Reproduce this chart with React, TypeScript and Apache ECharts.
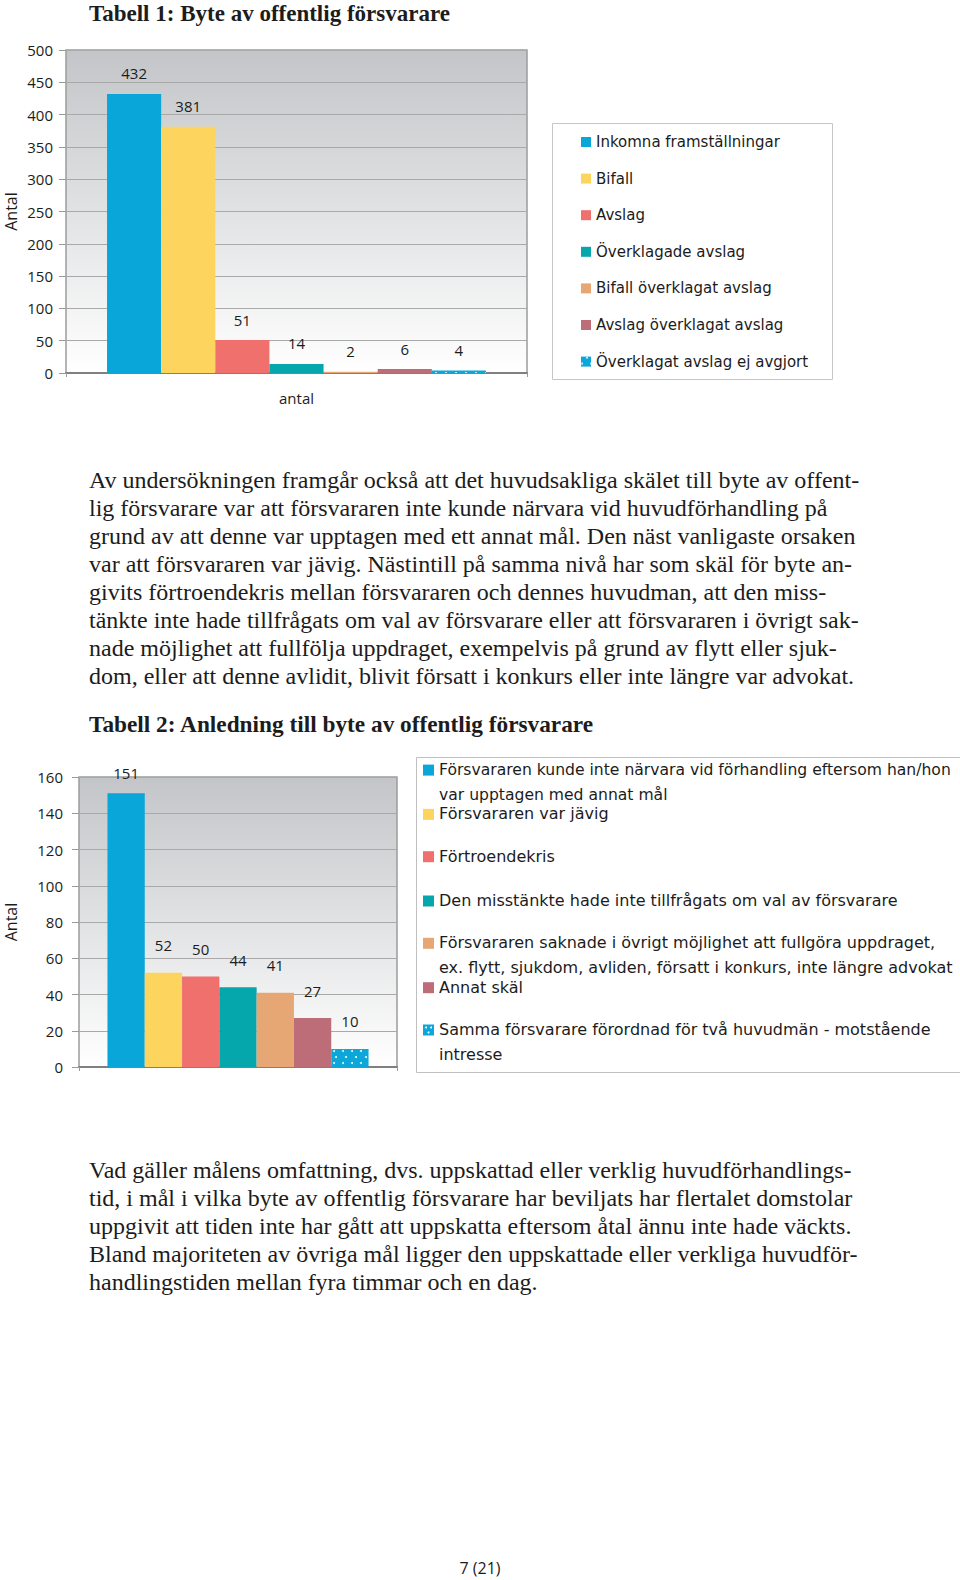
import React, { useEffect, useRef } from "react";
import * as echarts from "echarts";

// ---------- data ----------
const title1 = "Tabell 1: Byte av offentlig försvarare";
const title2 = "Tabell 2: Anledning till byte av offentlig försvarare";
const categories1 = ["antal"];
const categories2 = [""];
const series1Names = [
  "Inkomna framställningar",
  "Bifall",
  "Avslag",
  "Överklagade avslag",
  "Bifall överklagat avslag",
  "Avslag överklagat avslag",
  "Överklagat avslag ej avgjort",
];
const series1Values = [432, 381, 51, 14, 2, 6, 4];
const series2Names = [
  "Försvararen kunde inte närvara vid förhandling eftersom han/hon\nvar upptagen med annat mål",
  "Försvararen var jävig",
  "Förtroendekris",
  "Den misstänkte hade inte tillfrågats om val av försvarare",
  "Försvararen saknade i övrigt möjlighet att fullgöra uppdraget,\nex. flytt, sjukdom, avliden, försatt i konkurs, inte längre advokat",
  "Annat skäl",
  "Samma försvarare förordnad för två huvudmän - motstående\nintresse",
];
const series2Values = [151, 52, 50, 44, 41, 27, 10];
const yAxis1 = { min: 0, max: 500, interval: 50 };
const yAxis2 = { min: 0, max: 160, interval: 20 };
const yName = "Antal";
const paragraph1 = [
  "Av undersökningen framgår också att det huvudsakliga skälet till byte av offent-",
  "lig försvarare var att försvararen inte kunde närvara vid huvudförhandling på",
  "grund av att denne var upptagen med ett annat mål. Den näst vanligaste orsaken",
  "var att försvararen var jävig. Nästintill på samma nivå har som skäl för byte an-",
  "givits förtroendekris mellan försvararen och dennes huvudman, att den miss-",
  "tänkte inte hade tillfrågats om val av försvarare eller att försvararen i övrigt sak-",
  "nade möjlighet att fullfölja uppdraget, exempelvis på grund av flytt eller sjuk-",
  "dom, eller att denne avlidit, blivit försatt i konkurs eller inte längre var advokat.",
];
const paragraph2 = [
  "Vad gäller målens omfattning, dvs. uppskattad eller verklig huvudförhandlings-",
  "tid, i mål i vilka byte av offentlig försvarare har beviljats har flertalet domstolar",
  "uppgivit att tiden inte har gått att uppskatta eftersom åtal ännu inte hade väckts.",
  "Bland majoriteten av övriga mål ligger den uppskattade eller verkliga huvudför-",
  "handlingstiden mellan fyra timmar och en dag.",
];
const pageNumber = "7 (21)";

// ---------- styles ----------
const colors = ["#09a6d9", "#fdd55e", "#ef706d", "#06a6ad", "#e6a775", "#bc6d78", "#0ba6da"];
const dotDecal = {
  symbol: "circle",
  symbolSize: 1,
  color: "rgba(255,255,255,0.9)",
  dashArrayX: [[2, 7], [0, 4.5, 2, 2.5]],
  dashArrayY: [2, 4],
};
const sans = "'Open Sans', 'DejaVu Sans', sans-serif";
const legendFont = "'DejaVu Sans', sans-serif";
const serif = "'Liberation Serif', 'DejaVu Serif', serif";
const ink = "#1c1c1c";
const bodySize = 24;

const grid1 = { left: 66, top: 50, width: 461, height: 323 };
const grid2 = { left: 79, top: 777, width: 318, height: 290 };
const legend2Lines = [769.6, 813.9, 856.2, 900.5, 942.8, 987.2, 1029.5];

function plotBg() {
  return new echarts.graphic.LinearGradient(0, 0, 0, 1, [
    { offset: 0, color: "#c3c5c8" },
    { offset: 1, color: "#ffffff" },
  ]);
}

function buildOption() {
  const yAxisCommon = (cfg: any, gridIndex: number, margin: number, nameGap: number) => ({
    type: "value",
    gridIndex,
    min: cfg.min,
    max: cfg.max,
    interval: cfg.interval,
    name: yName,
    nameLocation: "middle",
    nameGap,
    nameRotate: 90,
    nameMoveOverlap: false,
    nameTextStyle: { fontSize: 16, fontFamily: sans, color: ink },
    axisLine: { show: false },
    axisTick: { show: true, length: 7, lineStyle: { color: "#9a9a9a" } },
    axisLabel: { fontSize: 15, fontFamily: sans, color: ink, margin },
    splitLine: { lineStyle: { color: "#a9a9a9", width: 1 } },
  });

  const xAxisCommon = (cats: string[], gridIndex: number) => ({
    type: "category",
    gridIndex,
    data: cats,
    axisLine: { lineStyle: { color: "#808080", width: 2 } },
    axisTick: { show: true, length: 4, lineStyle: { color: "#9a9a9a" } },
    axisLabel: { fontSize: 15, fontFamily: sans, color: ink, margin: 17 },
  });

  const s1 = series1Names.map((name, i) => ({
    type: "bar",
    name,
    xAxisIndex: 0,
    yAxisIndex: 0,
    data: [series1Values[i]],
    barGap: "0%",
    barCategoryGap: "17.8%",
    itemStyle: i === 6 ? { color: colors[i], decal: dotDecal } : { color: colors[i] },
    label: { show: true, position: "top", distance: 13, fontSize: 15, fontFamily: sans, color: ink },
  }));

  const s2 = series2Names.map((name, i) => ({
    type: "bar",
    name,
    xAxisIndex: 1,
    yAxisIndex: 1,
    data: [series2Values[i]],
    barGap: "0%",
    barCategoryGap: "17.9%",
    itemStyle: i === 6 ? { color: colors[i], decal: dotDecal } : { color: colors[i] },
    label: {
      show: true,
      position: "top",
      distance: i === 0 ? 13 : 20,
      fontSize: 15,
      fontFamily: sans,
      color: ink,
    },
  }));

  const elements: any[] = [];
  // titles
  elements.push({
    type: "text",
    x: 89,
    y: 13,
    style: { text: title1, fontSize: 23, fontWeight: "bold", fontFamily: serif, fill: ink, verticalAlign: "middle" },
  });
  elements.push({
    type: "text",
    x: 89,
    y: 724,
    style: { text: title2, fontSize: 23.3, fontWeight: "bold", fontFamily: serif, fill: ink, verticalAlign: "middle" },
  });
  // legend 1 frame
  elements.push({
    type: "rect",
    shape: { x: 552.5, y: 123.5, width: 280, height: 256 },
    style: { fill: "#ffffff", stroke: "#c6c6c6", lineWidth: 1 },
    z: -1,
  });
  // legend 2 frame and items
  elements.push({
    type: "rect",
    shape: { x: 416.5, y: 757.5, width: 560, height: 315 },
    style: { fill: "#ffffff", stroke: "#c0c0c0", lineWidth: 1 },
    z: -1,
  });
  series2Names.forEach((name, i) => {
    const cy = legend2Lines[i];
    elements.push({
      type: "rect",
      shape: { x: 423, y: cy - 5, width: 11, height: 11 },
      style: { fill: colors[i] },
    });
    if (i === 6) {
      [[426, cy - 2], [431, cy - 2], [428.5, cy + 3]].forEach(([dx, dy]) => {
        elements.push({
          type: "circle",
          shape: { cx: dx, cy: dy, r: 1 },
          style: { fill: "#ffffff" },
        });
      });
    }
    elements.push({
      type: "text",
      x: 439,
      y: cy - 12.5,
      style: {
        text: name,
        fontSize: i === 0 ? 15.6 : 16,
        fontFamily: legendFont,
        fill: ink,
        lineHeight: 25,
        verticalAlign: "top",
      },
    });
  });
  // paragraphs
  paragraph1.forEach((line, i) => {
    elements.push({
      type: "text",
      x: 89,
      y: 479.5 + i * 28.08,
      style: { text: line, fontSize: bodySize, fontFamily: serif, fill: ink, verticalAlign: "middle" },
    });
  });
  paragraph2.forEach((line, i) => {
    elements.push({
      type: "text",
      x: 89,
      y: 1169.5 + i * 28.2,
      style: { text: line, fontSize: bodySize, fontFamily: serif, fill: ink, verticalAlign: "middle" },
    });
  });
  elements.push({
    type: "text",
    x: 480,
    y: 1568,
    style: { text: pageNumber, fontSize: 16, fontFamily: sans, fill: ink, align: "center", verticalAlign: "middle" },
  });

  return {
    animation: false,
    backgroundColor: "#ffffff",
    grid: [
      {
        ...grid1,
        show: true,
        backgroundColor: plotBg(),
        borderColor: "#9c9c9c",
        borderWidth: 1.5,
        containLabel: false,
        outerBoundsMode: "none",
      },
      {
        ...grid2,
        show: true,
        backgroundColor: plotBg(),
        borderColor: "#9c9c9c",
        borderWidth: 1.5,
        containLabel: false,
        outerBoundsMode: "none",
      },
    ],
    xAxis: [
      xAxisCommon(categories1, 0),
      { ...xAxisCommon(categories2, 1), axisLabel: { show: false } },
    ],
    yAxis: [yAxisCommon(yAxis1, 0, 13, 47), yAxisCommon(yAxis2, 1, 16, 60)],
    legend: [
      {
        data: series1Names,
        orient: "vertical",
        left: 581,
        top: 134,
        padding: 0,
        icon: "rect",
        itemWidth: 10,
        itemHeight: 10,
        itemGap: 20.6,
        selectedMode: false,
        textStyle: { fontSize: 15, fontFamily: legendFont, color: ink, lineHeight: 16 },
      },
    ],
    series: [...s1, ...s2],
    graphic: { elements },
  };
}

export default function App() {
  const ref = useRef<HTMLDivElement>(null);
  useEffect(() => {
    if (!ref.current) return;
    const chart = echarts.init(ref.current, undefined, { renderer: "svg" });
    chart.setOption(buildOption() as any);
    return () => chart.dispose();
  }, []);
  return (
    <div
      ref={ref}
      style={{ position: "absolute", left: 0, top: 0, width: 960, height: 1580, background: "#fff" }}
    />
  );
}
